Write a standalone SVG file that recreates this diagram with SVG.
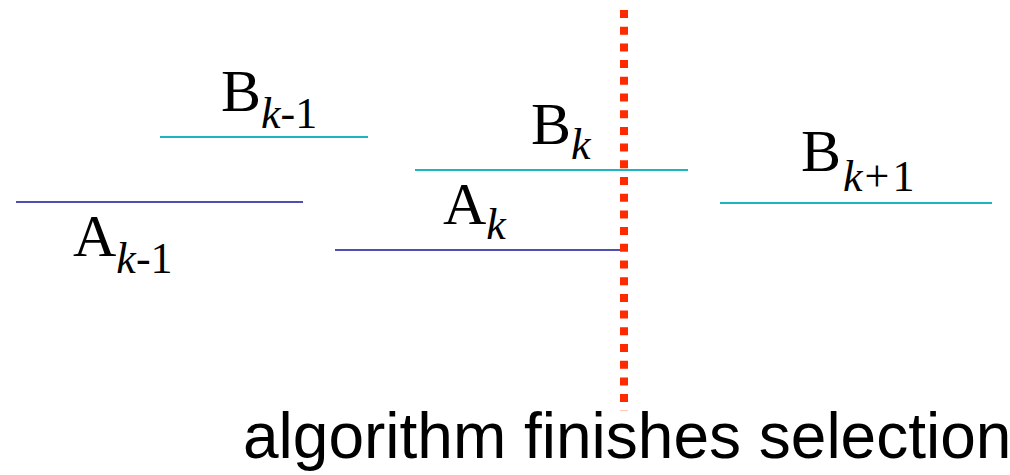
<svg xmlns="http://www.w3.org/2000/svg" width="1010" height="475" viewBox="0 0 1010 475">
<style>
.b{stroke:#1fb5bf;stroke-width:2;fill:none}
.a{stroke:#4f4fb0;stroke-width:2;fill:none}
.lbl{font-family:"Liberation Serif","Times New Roman",serif;font-size:60px;fill:#000}
.sub{font-size:44px;font-style:italic}
.sn{font-size:44px;font-style:normal}
.cap{font-family:"Liberation Sans",Arial,sans-serif;font-size:64px;fill:#000}
</style>
<rect width="1010" height="475" fill="#fff"/>
<g id="connectors">
<line class="b" x1="160" y1="137" x2="368" y2="137"/>
<line class="a" x1="16" y1="202" x2="303" y2="202"/>
<line class="b" x1="415" y1="170" x2="688" y2="170"/>
<line class="a" x1="335" y1="250" x2="622" y2="250"/>
<line class="b" x1="720" y1="203" x2="992" y2="203"/>
<line x1="624" y1="10" x2="624" y2="411" stroke="#ff2a00" stroke-width="8" stroke-dasharray="8 8.7"/>
</g>
<g id="Bk-1"><text class="lbl" x="221" y="111">B<tspan class="sub" dy="17">k</tspan><tspan class="sn">-1</tspan></text></g>
<g id="Ak-1"><text class="lbl" x="73" y="256">A<tspan class="sub" dy="17">k</tspan><tspan class="sn">-1</tspan></text></g>
<g id="Bk"><text class="lbl" x="531" y="144">B<tspan class="sub" dy="15">k</tspan></text></g>
<g id="Ak"><text class="lbl" x="443" y="224">A<tspan class="sub" dy="15">k</tspan></text></g>
<g id="Bk+1"><text class="lbl" x="801" y="171">B<tspan class="sub" dy="20" dx="2">k</tspan><tspan class="sn" dx="2" letter-spacing="3">+1</tspan></text></g>
<g id="caption"><text class="cap" x="243" y="458">algorithm finishes selection</text></g>
</svg>
